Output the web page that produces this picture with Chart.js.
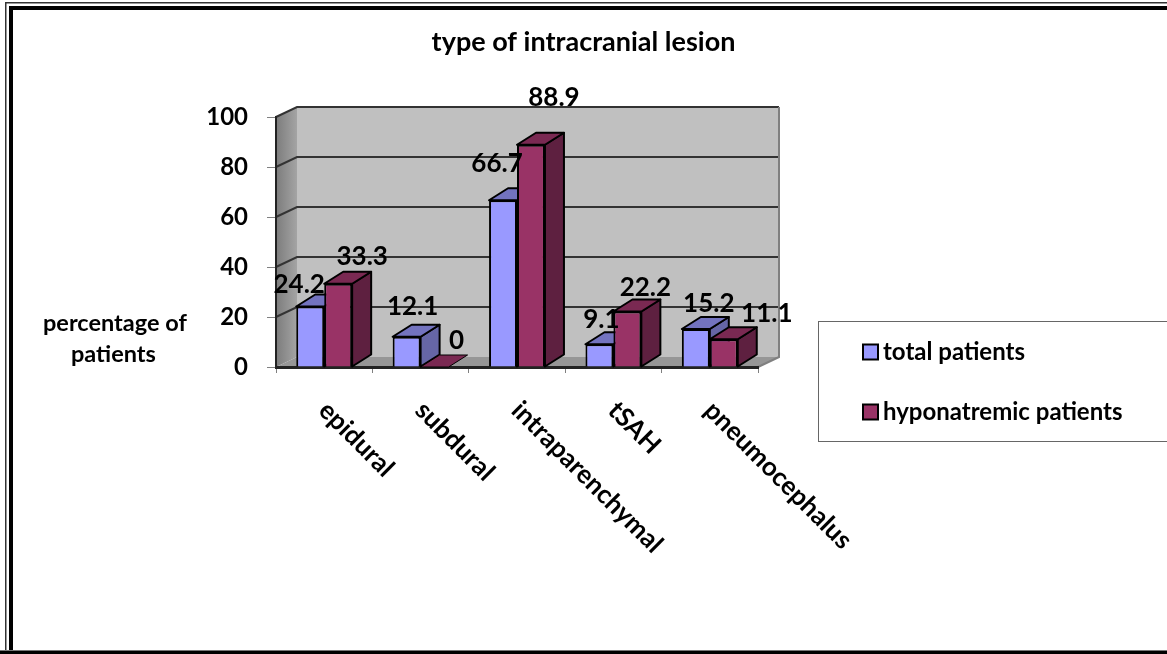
<!DOCTYPE html>
<html>
<head>
<meta charset="utf-8">
<title>type of intracranial lesion</title>
<style>
  html, body { margin: 0; padding: 0; background: #fff; }
  canvas { display: block; }
</style>
</head>
<body>
<canvas id="chart" width="1167" height="654"></canvas>
<script src="https://cdn.jsdelivr.net/npm/chart.js@4/dist/chart.umd.min.js"></script>
<script>
const categories = ['epidural', 'subdural', 'intraparenchymal', 'tSAH', 'pneumocephalus'];
const totalPatients = [24.2, 12.1, 66.7, 9.1, 15.2];
const hyponatremicPatients = [33.3, 0, 88.9, 22.2, 11.1];
const yTicks = [0, 20, 40, 60, 80, 100];

// label offset from the bar's front top centre, the original has them placed by hand
const totalNudge = [[-11, -22], [6, -30], [-6, -37], [2, -25], [13, -25]];
const hypoNudge = [[24, -27], [22, -26], [23, -47], [18, -24], [43, -26]];

const FONT = 'Lato, sans-serif';
const WALL = { dx: 21, dy: -10 };
const BAR = { dx: 19, dy: -12 };

function poly(ctx, pts, fill, stroke, lw) {
    ctx.beginPath();
    pts.forEach((p, i) => i ? ctx.lineTo(p[0], p[1]) : ctx.moveTo(p[0], p[1]));
    ctx.closePath();
    if (fill) { ctx.fillStyle = fill; ctx.fill(); }
    if (stroke) { ctx.strokeStyle = stroke; ctx.lineWidth = lw; ctx.stroke(); }
}

// Picture frame and the 3d box behind the bars
const backdrop = {
    id: 'backdrop',
    beforeDraw(chart) {
        const { ctx, chartArea: a, scales } = chart;
        const { dx, dy } = WALL;
        ctx.save();
        ctx.fillStyle = '#fff';
        ctx.fillRect(0, 0, chart.width, chart.height);

        // frame: thin dark line, then heavy black
        ctx.fillStyle = '#333';
        ctx.fillRect(5, 2, chart.width - 5, 1.5);
        ctx.fillRect(5, 2, 1.5, chart.height - 2);
        ctx.fillStyle = '#000';
        ctx.fillRect(9, 6, chart.width - 9, 4);
        ctx.fillRect(9, 6, 4, chart.height - 6);
        ctx.fillRect(0, 651, chart.width, 3);
        ctx.fillStyle = '#777';
        ctx.fillRect(0, 650, chart.width, 1);

        // side wall, back wall, floor
        const grad = ctx.createLinearGradient(a.left, 0, a.left + dx, 0);
        grad.addColorStop(0, '#7c7c7c');
        grad.addColorStop(1, '#a4a4a4');
        poly(ctx, [[a.left, a.top], [a.left + dx, a.top + dy], [a.left + dx, a.bottom + dy], [a.left, a.bottom]], grad);
        poly(ctx, [[a.left + dx, a.top + dy], [a.right + dx, a.top + dy], [a.right + dx, a.bottom + dy], [a.left + dx, a.bottom + dy]], '#c0c0c0');
        poly(ctx, [[a.left, a.bottom], [a.left + dx, a.bottom + dy], [a.right + dx, a.bottom + dy], [a.right, a.bottom]], '#969696');

        // gridlines run along the side wall and the back wall
        ctx.strokeStyle = '#333';
        ctx.lineWidth = 2;
        yTicks.forEach(v => {
            if (v === 0) return;
            const y = scales.y.getPixelForValue(v);
            ctx.beginPath();
            ctx.moveTo(a.left, y);
            ctx.lineTo(a.left + dx, y + dy);
            ctx.lineTo(a.right + dx, y + dy);
            ctx.stroke();
        });

        ctx.strokeStyle = '#808080';
        ctx.lineWidth = 2;
        ctx.beginPath();
        ctx.moveTo(a.right + dx, a.top + dy);
        ctx.lineTo(a.right + dx, a.bottom + dy);
        ctx.lineTo(a.right, a.bottom);
        ctx.stroke();
        ctx.restore();
    }
};

// Top and side faces, blue first so the red ones lie over them.
// The library then paints the front rectangles on top.
const barFaces = {
    id: 'barFaces',
    beforeDatasetsDraw(chart) {
        const { ctx } = chart;
        const { dx, dy } = BAR;
        ctx.save();
        ctx.lineJoin = 'round';
        chart.data.datasets.forEach((ds, d) => {
            chart.getDatasetMeta(d).data.forEach(bar => {
                const l = bar.x - bar.width / 2, r = bar.x + bar.width / 2;
                const t = bar.y, b = bar.base;
                if (b - t > 0.5) {
                    poly(ctx, [[r, t], [r + dx, t + dy], [r + dx, b + dy], [r, b]], ds.sideColor, '#000', 2);
                }
                poly(ctx, [[l, t], [l + dx, t + dy], [r + dx, t + dy], [r, t]], ds.topColor, '#000', b - t > 0.5 ? 2 : 1);
            });
        });
        ctx.restore();
    }
};

// Value labels, slanted category labels, axis caption and the boxed legend
const overlay = {
    id: 'overlay',
    afterDraw(chart) {
        const { ctx, scales } = chart;
        ctx.save();
        ctx.fillStyle = '#000';
        ctx.textBaseline = 'middle';

        ctx.font = 'bold 26px ' + FONT;
        ctx.textAlign = 'center';
        [totalNudge, hypoNudge].forEach((nudge, d) => {
            const ds = chart.data.datasets[d];
            chart.getDatasetMeta(d).data.forEach((bar, i) => {
                ctx.fillText(String(ds.data[i]), bar.x + nudge[i][0], bar.y + nudge[i][1]);
            });
        });

        ctx.textAlign = 'left';
        ctx.font = 'bold 26px ' + FONT;
        categories.forEach((name, i) => {
            ctx.save();
            ctx.translate(scales.x.getPixelForValue(i) - 1, 406);
            ctx.rotate(Math.PI / 4);
            ctx.fillText(name, 0, 0);
            ctx.restore();
        });

        ctx.font = 'bold 23.5px ' + FONT;
        ctx.fillText('percentage of', 43, 323);
        ctx.fillText('patients', 71, 354);

        ctx.strokeStyle = '#666';
        ctx.lineWidth = 1;
        ctx.strokeRect(818.5, 321.5, 360, 120);
        ctx.font = 'bold 24px ' + FONT;
        chart.data.datasets.forEach((ds, i) => {
            const y = 352 + i * 60;
            ctx.fillStyle = ds.backgroundColor;
            ctx.strokeStyle = '#000';
            ctx.lineWidth = 2;
            ctx.fillRect(863, y - 7.5, 15, 15);
            ctx.strokeRect(863, y - 7.5, 15, 15);
            ctx.fillStyle = '#000';
            ctx.fillText(ds.label, 883, y);
        });
        ctx.restore();
    }
};

new Chart(document.getElementById('chart'), {
    type: 'bar',
    data: {
        labels: categories,
        datasets: [
            {
                label: 'total patients',
                data: totalPatients,
                backgroundColor: '#9999ff',
                topColor: '#7373bf',
                sideColor: '#6666a6',
                borderColor: '#000',
                borderWidth: 2
            },
            {
                label: 'hyponatremic patients',
                data: hyponatremicPatients,
                backgroundColor: '#993366',
                topColor: '#7a2952',
                sideColor: '#5e2040',
                borderColor: '#000',
                borderWidth: 2
            }
        ]
    },
    options: {
        responsive: false,
        animation: false,
        layout: { padding: { top: 26, right: 0, left: 0, bottom: 0 } },
        font: { family: FONT },
        datasets: { bar: { barPercentage: 1, categoryPercentage: 0.58 } },
        scales: {
            x: {
                afterFit(scale) { scale.height = 654 - 367; },
                grid: { drawOnChartArea: false, tickLength: 6, tickColor: '#808080' },
                border: { color: '#222', width: 3 },
                ticks: { display: false }
            },
            y: {
                min: 0,
                max: 100,
                afterFit(scale) { scale.width = 276; },
                grid: { drawOnChartArea: false, tickLength: 9, tickColor: '#808080' },
                border: { color: '#222', width: 2 },
                afterBuildTicks(scale) { scale.ticks = yTicks.map(v => ({ value: v })); },
                ticks: {
                    color: '#000',
                    font: { family: FONT, weight: 'bold', size: 24 },
                    padding: 19
                }
            },
            // empty axis that keeps the legend column free, title stays centred on the page
            spacer: {
                position: 'right',
                afterFit(scale) { scale.width = 409; },
                grid: { display: false },
                border: { display: false },
                ticks: { display: false }
            }
        },
        plugins: {
            legend: { display: false },
            tooltip: { enabled: false },
            title: {
                display: true,
                text: 'type of intracranial lesion',
                color: '#000',
                font: { family: FONT, weight: 'bold', size: 27 },
                padding: { top: 0, bottom: 58.6 }
            }
        }
    },
    plugins: [backdrop, barFaces, overlay]
});
</script>
</body>
</html>
